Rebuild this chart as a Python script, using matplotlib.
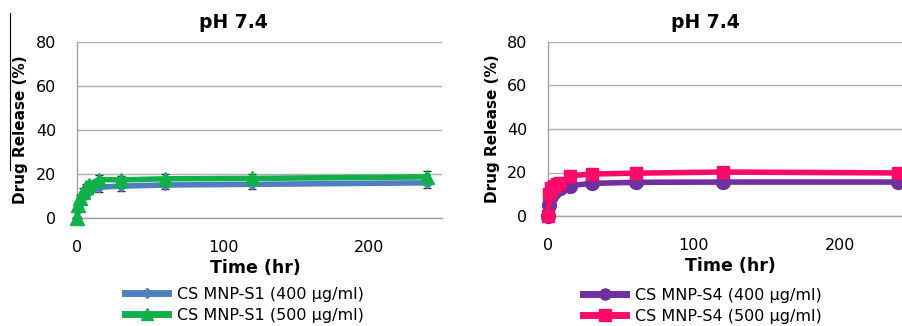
import matplotlib
matplotlib.use("Agg")
from matplotlib import pyplot as plt
from matplotlib.lines import Line2D

plt.rcParams["font.family"] = "DejaVu Sans"

# sampling times (hr)
time = [0, 1, 2, 4, 6, 8, 15, 30, 60, 120, 240]

# left panel
s1_400 = [0, 4, 7, 10, 11.5, 12.5, 14, 14.5, 15, 15.3, 16]
s1_400_err = [0.5, 1, 1, 1.5, 1.5, 1.5, 2, 2, 2, 2, 2.2]
s1_500 = [0, 6, 9, 12, 14, 15, 17.5, 17.3, 17.8, 18, 18.7]
s1_500_err = [0.5, 1, 1.5, 1.5, 1.5, 1.5, 2, 2, 2, 2.2, 2.5]

# right panel
s4_400 = [0, 5, 9, 11, 12.5, 13, 14, 15, 15.5, 15.6, 15.6]
s4_400_err = [0.5, 1, 1, 1, 1, 1, 1, 1, 1, 1, 1]
s4_500 = [0, 10, 13, 14, 14.5, 15, 18.5, 19.3, 19.7, 20.2, 19.8]
s4_500_err = [0.5, 1, 1, 1, 1, 1, 1.5, 1.5, 1.5, 1.5, 1.5]

labels_left = ["CS MNP-S1 (400 \u00b5g/ml)", "CS MNP-S1 (500 \u00b5g/ml)"]
labels_right = ["CS MNP-S4 (400 \u00b5g/ml)", "CS MNP-S4 (500 \u00b5g/ml)"]
yticks = [0, 20, 40, 60, 80]
xticks = [0, 100, 200]

fig = plt.figure(figsize=(9.02, 3.26), dpi=100)

W, H = 902, 326


def px_axes(x0, y_top, x1, y_bot):
    return fig.add_axes([x0 / W, 1 - y_bot / H, (x1 - x0) / W, (y_bot - y_top) / H])


ax1 = px_axes(77, 42, 442, 218)
ax2 = px_axes(548, 42, 913, 216)


def style(ax):
    ax.set_xlim(0, 250)
    ax.set_ylim(0, 80)
    ax.set_yticks(yticks)
    ax.set_xticks(xticks)
    ax.tick_params(length=0, labelsize=11.5, colors="black")
    ax.tick_params(axis="y", pad=15)
    ax.tick_params(axis="x", pad=16)
    ax.grid(axis="y", color="#b0b0b0", lw=1)
    ax.set_axisbelow(True)
    for s in ["top", "right"]:
        ax.spines[s].set_visible(False)
    for s in ["left", "bottom"]:
        ax.spines[s].set_color("#a0a0a0")
        ax.spines[s].set_linewidth(1)


def series(ax, y, err, color, marker, ms, label):
    ax.errorbar(time, y, yerr=err, color=color, lw=4, marker=marker, ms=ms,
                ecolor="#333333", elinewidth=1, capsize=3, capthick=1,
                label=label, clip_on=False, zorder=3)


style(ax1)
series(ax1, s1_400, s1_400_err, "#4f7fc0", "D", 5, labels_left[0])
series(ax1, s1_500, s1_500_err, "#12b04a", "^", 10, labels_left[1])

style(ax2)
series(ax2, s4_400, s4_400_err, "#7030a0", "o", 10, labels_right[0])
series(ax2, s4_500, s4_500_err, "#ff0a6a", "s", 9, labels_right[1])

for ax, tx, ylx, xlx in [(ax1, 233, -0.156, 0.49), (ax2, 705, -0.151, 0.499)]:
    fig.text(tx / W, 1 - 23 / H, "pH 7.4", ha="center", va="center",
             fontsize=13.5, fontweight="bold")
    ax.set_xlabel("Time (hr)", fontsize=12.5, fontweight="bold", va="center")
    ax.xaxis.set_label_coords(xlx, -0.285)
    ax.set_ylabel("Drug Release (%)", fontsize=11, fontweight="bold", va="center")
    ax.yaxis.set_label_coords(ylx, 0.5)

# legends below each panel
for ax, lab, cols, mks, mss, anchor in [
    (ax1, labels_left, ["#4f7fc0", "#12b04a"], ["D", "^"], [5, 9], (125, 287)),
    (ax2, labels_right, ["#7030a0", "#ff0a6a"], ["o", "s"], [8, 8], (583, 288)),
]:
    handles = [Line2D([], [], color=c, lw=5, marker=m, ms=s) for c, m, s in zip(cols, mks, mss)]
    fig.legend(handles, lab, loc="upper left",
               bbox_to_anchor=(anchor[0] / W, 1 - anchor[1] / H),
               frameon=False, fontsize=11.5, borderpad=0, borderaxespad=0,
               handlelength=2.7, handletextpad=0.55, labelspacing=0.35, numpoints=1)

# stray thin line at the far left of the original figure
fig.add_artist(Line2D([10 / W, 10 / W], [1 - 13 / H, 1 - 170 / H], color="black", lw=0.8))

plt.savefig("out.png", dpi=100)
